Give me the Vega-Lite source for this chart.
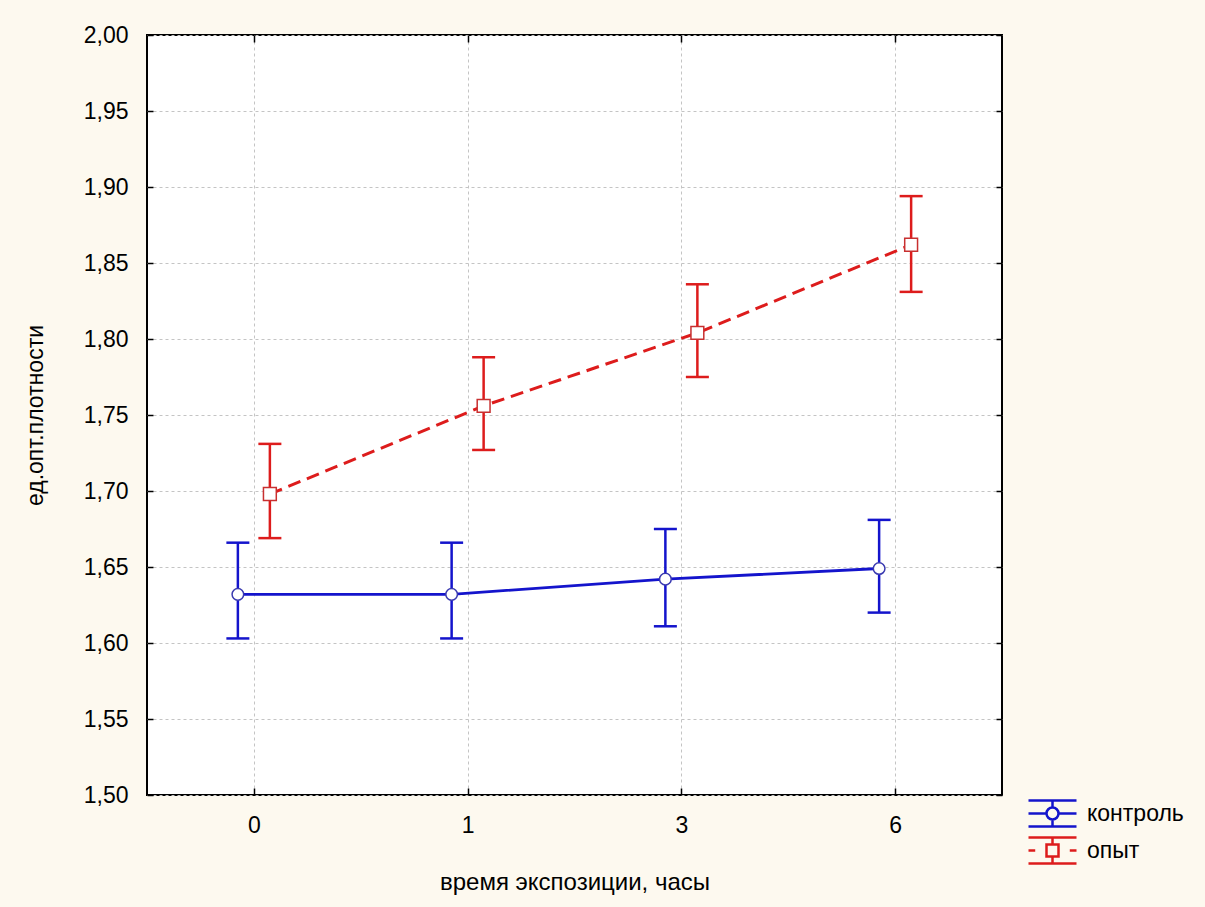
{
  "$schema": "https://vega.github.io/schema/vega-lite/v6.json",
  "width": 855,
  "height": 760,
  "autosize": {"type": "none"},
  "padding": {"left": 147, "top": 35, "right": 203, "bottom": 112},
  "background": "#fdf9ef",
  "config": {
    "font": "Liberation Sans",
    "view": {"stroke": "#000000", "strokeWidth": 2, "fill": "#ffffff"},
    "axis": {
      "domain": false,
      "labelColor": "#000000",
      "titleColor": "#000000",
      "titleFontWeight": "normal",
      "tickColor": "#000000",
      "tickWidth": 1.5
    }
  },
  "data": {
    "values": [
      {"series": "контроль", "t": "0", "mean": 1.632, "lo": 1.603, "hi": 1.666},
      {"series": "контроль", "t": "1", "mean": 1.632, "lo": 1.603, "hi": 1.666},
      {"series": "контроль", "t": "3", "mean": 1.642, "lo": 1.611, "hi": 1.675},
      {"series": "контроль", "t": "6", "mean": 1.649, "lo": 1.620, "hi": 1.681},
      {"series": "опыт", "t": "0", "mean": 1.698, "lo": 1.669, "hi": 1.731},
      {"series": "опыт", "t": "1", "mean": 1.756, "lo": 1.727, "hi": 1.788},
      {"series": "опыт", "t": "3", "mean": 1.804, "lo": 1.775, "hi": 1.836},
      {"series": "опыт", "t": "6", "mean": 1.862, "lo": 1.831, "hi": 1.894}
    ]
  },
  "resolve": {"axis": {"x": "independent", "y": "independent"}},
  "layer": [
    {
      "encoding": {
        "x": {
          "field": "t", "type": "ordinal", "sort": ["0", "1", "3", "6"],
          "scale": {"type": "point", "padding": 0.5},
          "axis": {
            "orient": "bottom", "title": "время экспозиции, часы", "labelAngle": 0,
            "labelFontSize": 23, "titleFontSize": 24, "tickSize": -7, "labelPadding": 26, "titlePadding": 33,
            "grid": true, "gridColor": "#c4c4c4", "gridDash": [3, 3], "gridWidth": 1
          }
        },
        "y": {
          "field": "mean", "type": "quantitative",
          "scale": {"domain": [1.5, 2.0], "nice": false, "zero": false},
          "axis": {
            "orient": "left", "title": "ед.опт.плотности",
            "values": [1.5, 1.55, 1.6, 1.65, 1.7, 1.75, 1.8, 1.85, 1.9, 1.95, 2.0],
            "labelExpr": "replace(format(datum.value, '.2f'), '.', ',')",
            "labelFontSize": 23, "titleFontSize": 23, "tickSize": -6, "labelPadding": 25, "titlePadding": 36,
            "grid": true, "gridColor": "#c4c4c4", "gridDash": [3, 3], "gridWidth": 1
          }
        }
      },
      "layer": [
        {
          "transform": [{"filter": "datum.series === 'контроль'"}],
          "mark": {"type": "line", "color": "#1414cc", "strokeWidth": 2.8, "xOffset": -16},
          "encoding": {}
        },
        {
          "transform": [{"filter": "datum.series === 'контроль'"}],
          "mark": {"type": "rule", "color": "#1414cc", "strokeWidth": 2.5, "xOffset": -16},
          "encoding": {"y": {"field": "lo", "type": "quantitative"}, "y2": {"field": "hi"}}
        },
        {
          "transform": [{"filter": "datum.series === 'контроль'"}],
          "mark": {"type": "tick", "orient": "horizontal", "color": "#1414cc", "size": 23, "thickness": 2.5, "xOffset": -16, "opacity": 1},
          "encoding": {"y": {"field": "hi", "type": "quantitative"}}
        },
        {
          "transform": [{"filter": "datum.series === 'контроль'"}],
          "mark": {"type": "tick", "orient": "horizontal", "color": "#1414cc", "size": 23, "thickness": 2.5, "xOffset": -16, "opacity": 1},
          "encoding": {"y": {"field": "lo", "type": "quantitative"}}
        },
        {
          "transform": [{"filter": "datum.series === 'контроль'"}],
          "mark": {"type": "point", "shape": "circle", "filled": false, "fill": "#ffffff", "fillOpacity": 1, "stroke": "#3a3ab0", "strokeWidth": 1.5, "size": 135, "opacity": 1, "xOffset": -16},
          "encoding": {}
        },
        {
          "transform": [{"filter": "datum.series === 'опыт'"}],
          "mark": {"type": "line", "color": "#dd1c1c", "strokeWidth": 3, "strokeDash": [13, 7], "xOffset": 16},
          "encoding": {}
        },
        {
          "transform": [{"filter": "datum.series === 'опыт'"}],
          "mark": {"type": "rule", "color": "#dd1c1c", "strokeWidth": 2.5, "xOffset": 16},
          "encoding": {"y": {"field": "lo", "type": "quantitative"}, "y2": {"field": "hi"}}
        },
        {
          "transform": [{"filter": "datum.series === 'опыт'"}],
          "mark": {"type": "tick", "orient": "horizontal", "color": "#dd1c1c", "size": 23, "thickness": 2.5, "xOffset": 16, "opacity": 1},
          "encoding": {"y": {"field": "hi", "type": "quantitative"}}
        },
        {
          "transform": [{"filter": "datum.series === 'опыт'"}],
          "mark": {"type": "tick", "orient": "horizontal", "color": "#dd1c1c", "size": 23, "thickness": 2.5, "xOffset": 16, "opacity": 1},
          "encoding": {"y": {"field": "lo", "type": "quantitative"}}
        },
        {
          "transform": [{"filter": "datum.series === 'опыт'"}],
          "mark": {"type": "point", "shape": "square", "filled": false, "fill": "#ffffff", "fillOpacity": 1, "stroke": "#c83030", "strokeWidth": 1.5, "size": 165, "opacity": 1, "xOffset": 16},
          "encoding": {}
        }
      ]
    },
    {
      "mark": {"type": "point", "opacity": 0, "filled": false},
      "encoding": {
        "x": {
          "field": "t", "type": "ordinal", "sort": ["0", "1", "3", "6"],
          "axis": {"orient": "top", "labels": false, "title": null, "grid": false, "tickSize": -7}
        },
        "y": {
          "field": "mean", "type": "quantitative",
          "axis": {"orient": "right", "labels": false, "title": null, "grid": false, "tickSize": -6,
                   "values": [1.5, 1.55, 1.6, 1.65, 1.7, 1.75, 1.8, 1.85, 1.9, 1.95, 2.0]}
        },
        "color": {
          "field": "series", "type": "nominal",
          "scale": {"domain": ["контроль", "опыт"], "range": ["#1414cc", "#dd1c1c"]},
          "legend": {
            "orient": "none", "legendX": 888, "legendY": 761, "title": null,
            "symbolSize": 1024, "symbolStrokeWidth": 2.5, "symbolOpacity": 1,
            "symbolFillColor": "transparent", "rowPadding": 0,
            "labelFontSize": 23, "labelColor": "#000000", "labelOffset": 17, "padding": 0
          }
        },
        "shape": {
          "field": "series", "type": "nominal",
          "scale": {
            "domain": ["контроль", "опыт"],
            "range": [
              "M-1.5,-0.81H1.5M-1.5,0.81H1.5M0,-0.81V-0.375M0,0.375V0.81M-1.5,0H-0.375M0.375,0H1.5M-0.375,0A0.375,0.375,0,1,1,0.375,0A0.375,0.375,0,1,1,-0.375,0Z",
              "M-1.5,-0.81H1.5M-1.5,0.81H1.5M0,-0.81V-0.375M0,0.375V0.81M-1.5,0H-1.08M1.08,0H1.5M-0.375,-0.375H0.375V0.375H-0.375Z"
            ]
          }
        }
      }
    }
  ]
}
